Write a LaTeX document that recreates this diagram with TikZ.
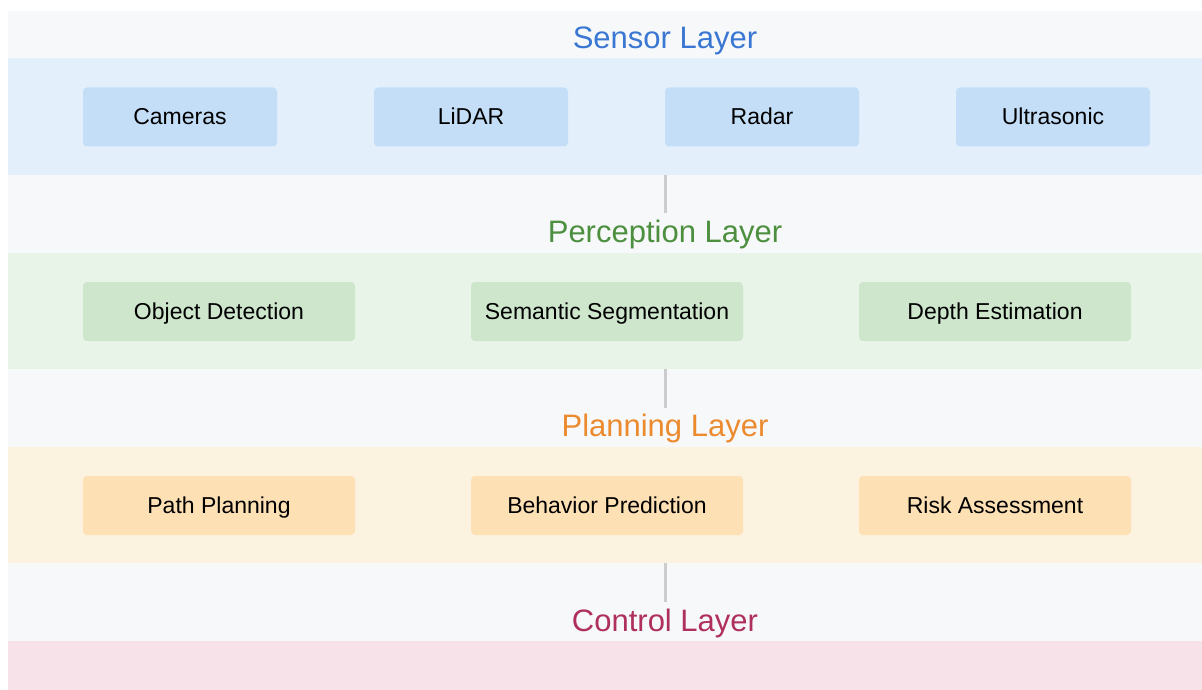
\documentclass[tikz,border=0pt]{standalone}
\usepackage{fontspec}
\setmainfont{Liberation Sans}
\definecolor{panelgray}{HTML}{F7F8FA}
\definecolor{sensband}{HTML}{E3F0FB}
\definecolor{sensbox}{HTML}{C4DEF8}
\definecolor{senstitle}{HTML}{3A77D3}
\definecolor{percband}{HTML}{E8F4E7}
\definecolor{percbox}{HTML}{CDE6CC}
\definecolor{perctitle}{HTML}{4C8F3E}
\definecolor{planband}{HTML}{FCF2E0}
\definecolor{planbox}{HTML}{FDE0B4}
\definecolor{plantitle}{HTML}{EC8A2E}
\definecolor{ctrlband}{HTML}{F8E2E9}
\definecolor{ctrltitle}{HTML}{B0305C}
\definecolor{linkgray}{HTML}{CCCCCC}
\tikzset{
  band/.style={fill=#1, draw=none, inner sep=0pt, anchor=north west},
  boxnode/.style={fill=#1, draw=none, rounded corners=4pt, inner sep=0pt,
    minimum height=59pt, font=\fontsize{23}{27}\selectfont, text=black,
    text height=20.8pt, text depth=4.9pt},
  titlenode/.style={text=#1, inner sep=0pt, font=\fontsize{31}{36}\selectfont,
    text height=28pt, text depth=6.6pt},
  link/.style={draw=linkgray, line width=3pt}
}
\begin{document}
\begin{tikzpicture}[x=1pt,y=-1pt]
\useasboundingbox (0,0) rectangle (1202,690);
\fill[white] (0,0) rectangle (1202,690);
\fill[panelgray] (8,11) rectangle (1202,690);
% bands
\node[band=sensband, minimum width=1194pt, minimum height=117pt] (sensor) at (8,58) {};
\node[band=percband, minimum width=1194pt, minimum height=116pt] (perception) at (8,253) {};
\node[band=planband, minimum width=1194pt, minimum height=116pt] (planning) at (8,447) {};
\node[band=ctrlband, minimum width=1194pt, minimum height=49pt] (control) at (8,641) {};
% titles
\node[titlenode=senstitle] (tsensor) at (665,37.5) {Sensor Layer};
\node[titlenode=perctitle] (tperc) at (665,232) {Perception Layer};
\node[titlenode=plantitle] (tplan) at (665,426) {Planning Layer};
\node[titlenode=ctrltitle] (tctrl) at (665,621) {Control Layer};
% sensor boxes
\node[boxnode=sensbox, minimum width=194pt] (cameras) at (180,117) {Cameras};
\node[boxnode=sensbox, minimum width=194pt] (lidar) at (471,117) {LiDAR};
\node[boxnode=sensbox, minimum width=194pt] (radar) at (762,117) {Radar};
\node[boxnode=sensbox, minimum width=194pt] (ultra) at (1053,117) {Ultrasonic};
% perception boxes
\node[boxnode=percbox, minimum width=272pt] (objdet) at (219,311.5) {Object Detection};
\node[boxnode=percbox, minimum width=272pt] (semseg) at (607,311.5) {Semantic Segmentation};
\node[boxnode=percbox, minimum width=272pt] (depth) at (995,311.5) {Depth Estimation};
% planning boxes
\node[boxnode=planbox, minimum width=272pt] (path) at (219,505.5) {Path Planning};
\node[boxnode=planbox, minimum width=272pt] (behav) at (607,505.5) {Behavior Prediction};
\node[boxnode=planbox, minimum width=272pt] (risk) at (995,505.5) {Risk Assessment};
% connectors
\coordinate (l1a) at (665,175);
\coordinate (l1b) at (665,213);
\coordinate (l2a) at (665,369);
\coordinate (l2b) at (665,408);
\coordinate (l3a) at (665,563);
\coordinate (l3b) at (665,602);
\draw[link] (l1a) -- (l1b);
\draw[link] (l2a) -- (l2b);
\draw[link] (l3a) -- (l3b);
\end{tikzpicture}
\end{document}
